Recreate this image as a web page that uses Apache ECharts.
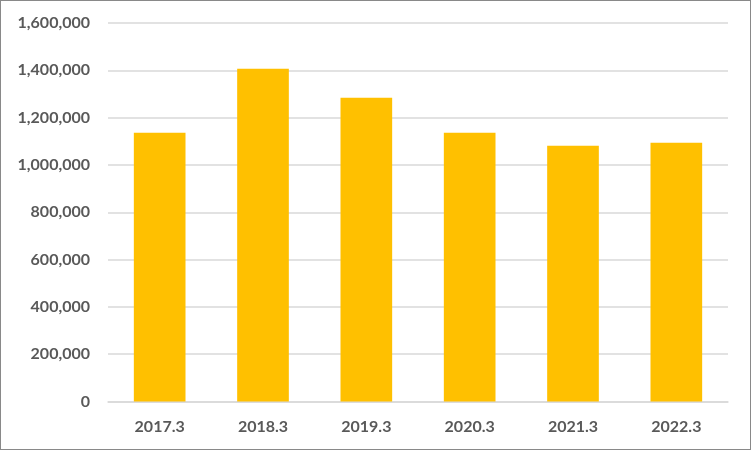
<!DOCTYPE html>
<html>
<head>
<meta charset="utf-8">
<script src="https://cdn.jsdelivr.net/npm/echarts@6/dist/echarts.min.js"></script>
<style>
html,body{margin:0;padding:0;background:#fff;}
#wrap{position:relative;width:751px;height:450px;}
#chart{width:751px;height:450px;}
#frame{position:absolute;left:0;top:0;width:751px;height:450px;box-sizing:border-box;border:1px solid #898989;pointer-events:none;}
</style>
</head>
<body>
<div id="wrap"><div id="chart"></div><div id="frame"></div></div>
<script>
const categories = ['2017.3', '2018.3', '2019.3', '2020.3', '2021.3', '2022.3'];
const values = [1136000, 1407000, 1284000, 1136000, 1081000, 1094000];
const yMin = 0, yMax = 1600000, yStep = 200000;

const chart = echarts.init(document.getElementById('chart'));
const fontFamily = 'Lato, "Liberation Sans", sans-serif';
chart.setOption({
  animation: false,
  backgroundColor: '#ffffff',
  grid: { left: 108, right: 23, top: 23, bottom: 48.5, containLabel: false },
  xAxis: {
    type: 'category',
    data: categories,
    axisLine: { show: true, lineStyle: { color: '#d9d9d9', width: 1.5 } },
    axisTick: { show: false },
    axisLabel: { color: '#595959', fontSize: 16, fontWeight: 'bold', fontFamily: fontFamily, margin: 17 }
  },
  yAxis: {
    type: 'value',
    min: yMin, max: yMax, interval: yStep,
    axisLine: { show: false },
    axisTick: { show: false },
    splitLine: { lineStyle: { color: '#d9d9d9', width: 1.5 } },
    axisLabel: {
      color: '#595959', fontSize: 16, fontWeight: 'bold', fontFamily: fontFamily, margin: 18,
      formatter: v => v.toLocaleString('en-US')
    }
  },
  series: [{
    type: 'bar',
    data: values,
    barCategoryGap: '50%',
    itemStyle: { color: '#FFC000' }
  }]
});
</script>
</body>
</html>
